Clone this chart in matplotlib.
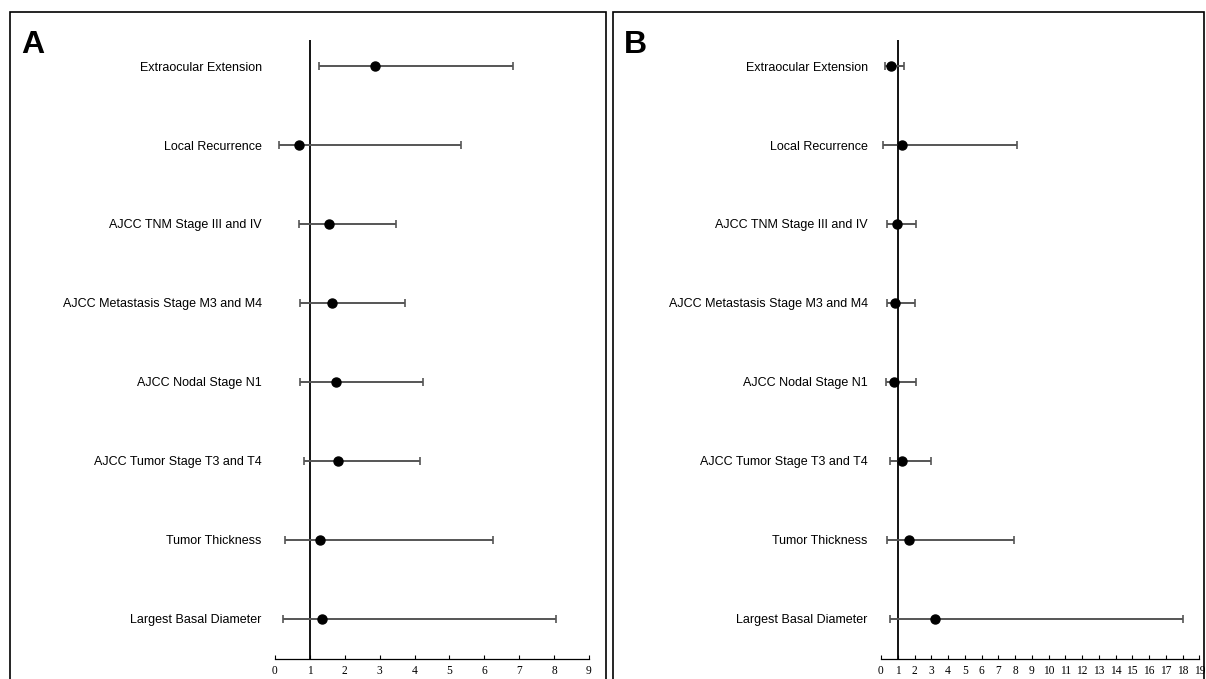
import matplotlib.pyplot as plt
from matplotlib.patches import Rectangle

labels = ["Extraocular Extension", "Local Recurrence", "AJCC TNM Stage III and IV",
          "AJCC Metastasis Stage M3 and M4", "AJCC Nodal Stage N1",
          "AJCC Tumor Stage T3 and T4", "Tumor Thickness", "Largest Basal Diameter"]

# panel A: estimate, lower, upper
a_est = [2.87, 0.69, 1.56, 1.64, 1.74, 1.82, 1.29, 1.35]
a_lo = [1.26, 0.12, 0.70, 0.73, 0.72, 0.82, 0.29, 0.22]
a_hi = [6.83, 5.34, 3.47, 3.74, 4.24, 4.15, 6.26, 8.05]

# panel B
b_est = [0.60, 1.25, 0.94, 0.86, 0.78, 1.27, 1.67, 3.24]
b_lo = [0.24, 0.10, 0.38, 0.34, 0.30, 0.56, 0.34, 0.54]
b_hi = [1.39, 8.12, 2.09, 2.01, 2.09, 2.97, 7.96, 18.0]

W, H = 1206, 679
fig = plt.figure(figsize=(W / 100, H / 100), dpi=100)
plt.rcParams['font.family'] = ['Liberation Sans', 'DejaVu Sans']


def panel(left_px, right_px, est, lo, hi, xmax, letter, box):
    ax = fig.add_axes([left_px / W, 1 - 659 / H, (right_px - left_px) / W, 619 / H])
    y = list(range(len(labels)))
    xerr = [[e - l for e, l in zip(est, lo)], [h - e for e, h in zip(est, hi)]]
    ax.errorbar(est, y, xerr=xerr, fmt='o', color='black', ms=6.5,
                ecolor='#555555', elinewidth=1.4, capsize=3, capthick=1.2, zorder=3)
    ax.axvline(1, color='black', lw=1.3, zorder=2)
    ax.set_xlim(0, xmax)
    ax.set_ylim(7.51, -0.33)
    ax.set_xticks(range(0, xmax + 1))
    ax.set_xticklabels([str(i) for i in range(0, xmax + 1)],
                       fontfamily='Liberation Serif', fontsize=8.3)
    ax.tick_params(axis='x', direction='in', length=3, width=0.8, pad=4)
    ax.set_yticks(y)
    ax.set_yticklabels(labels, fontsize=9)
    ax.tick_params(axis='y', length=0, pad=9.5)
    for s in ['left', 'top', 'right']:
        ax.spines[s].set_visible(False)
    ax.spines['bottom'].set_linewidth(0.9)
    ax.patch.set_visible(False)
    x0, x1 = box
    fig.patches.append(Rectangle((x0 / W, -0.1), (x1 - x0) / W, 0.1 + 1 - 12 / H,
                                 transform=fig.transFigure, fill=False,
                                 edgecolor='black', lw=1.2))
    fig.text((x0 + 11) / W, 1 - 30 / H, letter, fontsize=23, fontweight='bold',
             ha='left', va='top')


panel(275, 589, a_est, a_lo, a_hi, 9, 'A', (10, 606))
panel(881, 1199.3, b_est, b_lo, b_hi, 19, 'B', (613, 1204))

fig.savefig('out.png', dpi=100)
